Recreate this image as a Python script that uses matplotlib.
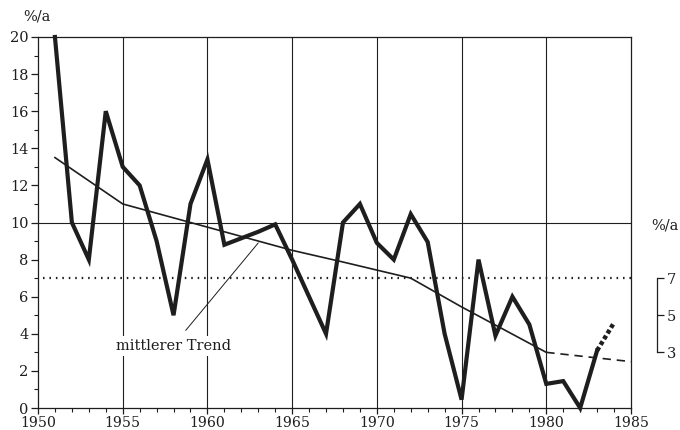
import matplotlib
matplotlib.use("Agg")
import matplotlib.pyplot as plt
from matplotlib.ticker import MultipleLocator

# ---- data ----
years = list(range(1951, 1984))
values = [20, 10, 8, 16, 13, 12, 9, 5, 11, 13.4, 8.8, 9.15, 9.5, 9.9, 8.0, 6.0, 4.0,
          10.0, 11.0, 8.9, 8.0, 10.45, 8.95, 4.0, 0.45, 8.0, 3.9, 6.0, 4.5, 1.3, 1.45, 0.0, 3.1]
proj_years = [1983, 1984]
proj_values = [3.1, 4.6]
trend_years = [1951, 1955, 1960, 1965, 1968, 1972, 1975, 1980]
trend_values = [13.5, 11.0, 9.75, 8.5, 7.87, 7.0, 5.45, 3.0]
trend_proj_years = [1980, 1985]
trend_proj_values = [3.0, 2.5]
mean_level = 7
right_ticks = [3, 5, 7]
x_ticks = [1950, 1955, 1960, 1965, 1970, 1975, 1980, 1985]
y_ticks = [0, 2, 4, 6, 8, 10, 12, 14, 16, 18, 20]

FONT = "DejaVu Serif"
plt.rcParams["font.family"] = [FONT]
C = "#1e1e1e"

fig = plt.figure(figsize=(6.8, 4.3), dpi=100)
ax = fig.add_axes([38/680, 1-408/430, (631-38)/680, (408-37)/430])
ax.set_xlim(1950, 1985)
ax.set_ylim(0, 20)

# grid
for xv in x_ticks[1:-1]:
    ax.axvline(xv, color=C, lw=0.8, zorder=1)
ax.axhline(10, color=C, lw=0.8, zorder=1)

# mean level
ax.plot([1950.3, 1985], [mean_level, mean_level], color=C, lw=1.6,
        linestyle=(0, (0.7, 2.2)), zorder=2)

# trend
ax.plot(trend_years, trend_values, color=C, lw=1.2, zorder=3)
ax.plot(trend_proj_years, trend_proj_values, color=C, lw=1.2,
        linestyle=(0, (5, 3.5)), zorder=3)

# main series
ax.plot(years, values, color=C, lw=3.0, solid_joinstyle="miter", zorder=4, clip_on=False)
ax.plot(proj_years, proj_values, color=C, lw=3.2, linestyle=(0, (0.9, 0.6)), zorder=4)

# annotation
ax.annotate("mittlerer Trend", xy=(1963.0, 8.9), xytext=(1957.97, 3.36),
            ha="center", va="center", fontsize=10.5, color=C,
            bbox=dict(boxstyle="square,pad=0.2", fc="white", ec="none"),
            arrowprops=dict(arrowstyle="-", color=C, lw=0.7, shrinkA=5, shrinkB=0),
            zorder=5)

# spines / ticks
for s in ax.spines.values():
    s.set_color(C)
    s.set_linewidth(0.9)
ax.set_xticks(x_ticks)
ax.set_yticks(y_ticks)
ax.xaxis.set_minor_locator(MultipleLocator(1))
ax.yaxis.set_minor_locator(MultipleLocator(1))
ax.tick_params(which="major", direction="out", length=5, width=0.9, color=C,
               labelsize=10.5, labelcolor=C, pad=2)
ax.tick_params(axis="x", which="major", length=4, pad=1.8, labelsize=10.2)
ax.tick_params(which="minor", direction="out", length=3, width=0.8, color=C)
ax.tick_params(axis="y", which="both", right=False)

fig.text(23/680, 1-17/430, "%/a", fontsize=10.5, color=C, va="center", ha="left")

# right bracket axis
ax2 = ax.twinx()
ax2.set_ylim(0, 20)
for k in ["top", "bottom", "left"]:
    ax2.spines[k].set_visible(False)
ax2.spines["right"].set_position(("outward", 19))
ax2.spines["right"].set_bounds(right_ticks[0], right_ticks[-1])
ax2.spines["right"].set_color(C)
ax2.spines["right"].set_linewidth(0.9)
ax2.set_yticks(right_ticks)
ax2.tick_params(axis="y", direction="out", length=5, width=0.9, color=C,
                labelsize=10.5, labelcolor=C, pad=2)
fig.text(651/680, 1-225/430, "%/a", fontsize=10.5, color=C, va="center", ha="left")

fig.savefig("out.png", dpi=100)
